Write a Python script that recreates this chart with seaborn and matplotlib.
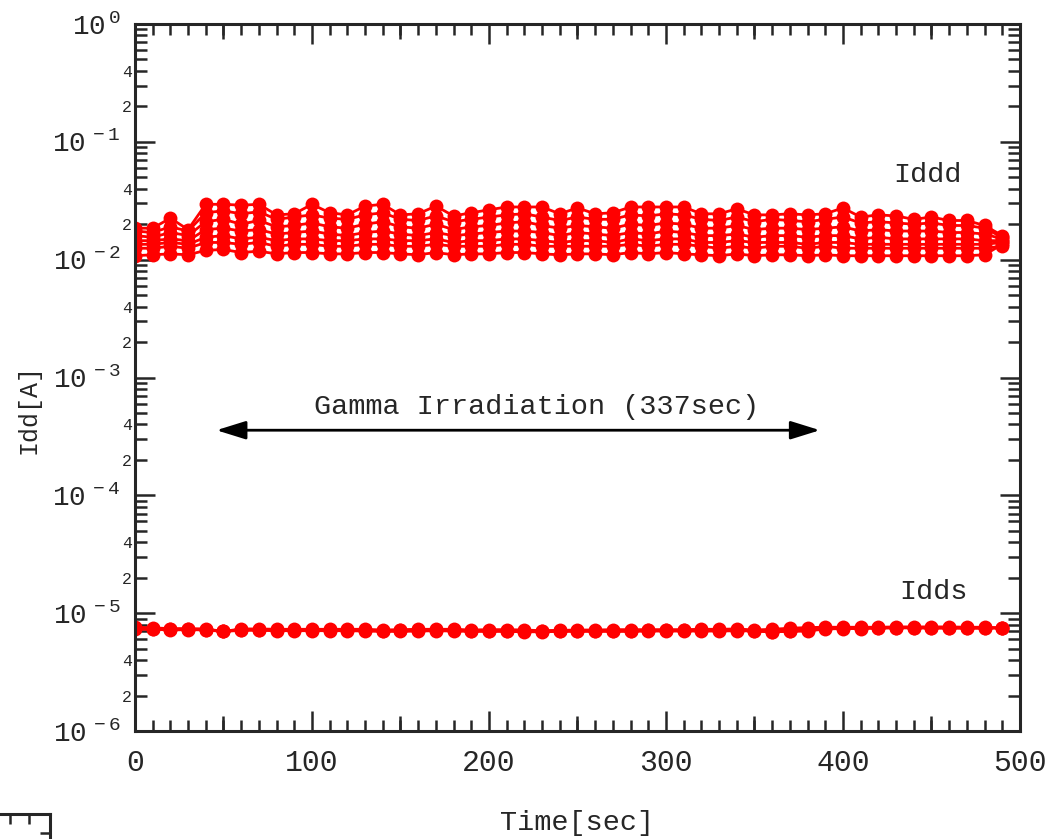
import numpy as np
import pandas as pd
import matplotlib
matplotlib.use("Agg")
import matplotlib.pyplot as plt
import matplotlib.ticker as mticker
import seaborn as sns

# time axis [sec]
time_sec = [0, 10, 20, 30, 40, 50, 60, 70, 80, 90,
            100, 110, 120, 130, 140, 150, 160, 170, 180, 190,
            200, 210, 220, 230, 240, 250, 260, 270, 280, 290,
            300, 310, 320, 330, 340, 350, 360, 370, 380, 390,
            400, 410, 420, 430, 440, 450, 460, 470, 480, 490]

# Iddd currents, in units of 1e-2 A
iddd_1 = [1.85, 1.85, 2.25, 1.80, 2.95, 2.95, 2.90, 2.95, 2.40, 2.45,
          2.95, 2.50, 2.40, 2.85, 2.95, 2.40, 2.45, 2.85, 2.35, 2.50,
          2.65, 2.80, 2.80, 2.80, 2.45, 2.75, 2.45, 2.50, 2.80, 2.80,
          2.80, 2.80, 2.45, 2.45, 2.70, 2.40, 2.40, 2.45, 2.40, 2.45,
          2.75, 2.30, 2.40, 2.35, 2.20, 2.30, 2.15, 2.15, 1.95, 1.60]
iddd_2 = [1.75, 1.70, 1.90, 1.75, 2.50, 2.60, 2.45, 2.55, 2.20, 2.30,
          2.40, 2.25, 2.20, 2.40, 2.50, 2.20, 2.15, 2.35, 2.10, 2.20,
          2.30, 2.40, 2.45, 2.30, 2.15, 2.30, 2.20, 2.20, 2.40, 2.35,
          2.45, 2.40, 2.20, 2.15, 2.30, 2.10, 2.20, 2.15, 2.10, 2.20,
          2.30, 2.05, 2.10, 2.05, 2.00, 2.05, 1.95, 1.95, 1.85, 1.55]
iddd_3 = [1.60, 1.55, 1.70, 1.60, 2.10, 2.20, 2.00, 2.15, 1.90, 1.95,
          2.05, 1.90, 1.85, 2.00, 2.10, 1.90, 1.85, 2.00, 1.80, 1.90,
          1.95, 2.05, 2.10, 1.95, 1.85, 1.95, 1.90, 1.85, 2.00, 1.95,
          2.05, 2.00, 1.85, 1.85, 1.95, 1.80, 1.85, 1.85, 1.80, 1.85,
          1.90, 1.75, 1.80, 1.75, 1.75, 1.75, 1.70, 1.70, 1.65, 1.50]
iddd_4 = [1.45, 1.45, 1.50, 1.45, 1.80, 1.85, 1.75, 1.80, 1.65, 1.70,
          1.75, 1.65, 1.60, 1.70, 1.75, 1.65, 1.60, 1.70, 1.60, 1.65,
          1.70, 1.75, 1.75, 1.70, 1.60, 1.70, 1.65, 1.60, 1.70, 1.65,
          1.75, 1.70, 1.60, 1.60, 1.65, 1.55, 1.60, 1.60, 1.55, 1.60,
          1.60, 1.50, 1.55, 1.50, 1.50, 1.50, 1.50, 1.50, 1.45, 1.45]
iddd_5 = [1.35, 1.35, 1.40, 1.35, 1.55, 1.60, 1.50, 1.55, 1.45, 1.50,
          1.50, 1.45, 1.45, 1.50, 1.50, 1.45, 1.45, 1.50, 1.40, 1.45,
          1.45, 1.50, 1.50, 1.45, 1.40, 1.45, 1.45, 1.40, 1.50, 1.45,
          1.50, 1.50, 1.40, 1.40, 1.45, 1.40, 1.40, 1.40, 1.35, 1.40,
          1.40, 1.35, 1.35, 1.35, 1.35, 1.35, 1.35, 1.35, 1.35, 1.40]
iddd_6 = [1.25, 1.25, 1.30, 1.25, 1.40, 1.40, 1.35, 1.40, 1.30, 1.35,
          1.35, 1.30, 1.30, 1.35, 1.35, 1.30, 1.30, 1.35, 1.30, 1.30,
          1.30, 1.35, 1.35, 1.30, 1.30, 1.30, 1.30, 1.30, 1.35, 1.30,
          1.35, 1.35, 1.30, 1.25, 1.30, 1.25, 1.30, 1.30, 1.25, 1.30,
          1.25, 1.25, 1.25, 1.25, 1.25, 1.25, 1.25, 1.25, 1.25, 1.30]
iddd_7 = [1.08, 1.10, 1.12, 1.10, 1.20, 1.22, 1.15, 1.18, 1.12, 1.15,
          1.15, 1.12, 1.12, 1.15, 1.15, 1.12, 1.10, 1.15, 1.10, 1.12,
          1.12, 1.15, 1.15, 1.12, 1.10, 1.12, 1.12, 1.10, 1.15, 1.12,
          1.15, 1.12, 1.10, 1.08, 1.12, 1.08, 1.10, 1.10, 1.08, 1.10,
          1.08, 1.08, 1.08, 1.08, 1.08, 1.08, 1.08, 1.08, 1.10, 1.35]

# Idds currents, in units of 1e-6 A
idds_1 = [7.60, 7.50, 7.40, 7.40, 7.35, 7.00, 7.35, 7.35, 7.30, 7.30,
          7.30, 7.30, 7.30, 7.30, 7.20, 7.25, 7.30, 7.30, 7.30, 7.20,
          7.25, 7.25, 7.20, 7.10, 7.15, 7.20, 7.20, 7.25, 7.25, 7.25,
          7.25, 7.25, 7.30, 7.30, 7.35, 7.20, 7.30, 7.45, 7.55, 7.60,
          7.60, 7.60, 7.60, 7.65, 7.65, 7.65, 7.65, 7.60, 7.60, 7.50]
idds_2 = [7.30, 7.30, 7.20, 7.25, 7.20, 7.00, 7.15, 7.15, 7.10, 7.10,
          7.10, 7.10, 7.10, 7.05, 7.00, 7.00, 7.05, 7.10, 7.05, 7.00,
          7.00, 7.00, 6.95, 6.95, 7.00, 7.00, 7.00, 7.00, 7.00, 7.05,
          7.05, 7.05, 7.05, 7.05, 7.10, 7.05, 6.95, 7.00, 7.05, 7.35,
          7.40, 7.40, 7.45, 7.50, 7.50, 7.45, 7.45, 7.45, 7.45, 7.50]
idds_3 = [7.50, 7.40, 7.30, 7.30, 7.25, 7.00, 7.25, 7.25, 7.20, 7.20,
          7.20, 7.20, 7.20, 7.15, 7.10, 7.15, 7.15, 7.20, 7.20, 7.10,
          7.10, 7.10, 7.05, 7.05, 7.10, 7.10, 7.10, 7.10, 7.10, 7.15,
          7.15, 7.15, 7.15, 7.15, 7.20, 7.10, 6.90, 7.10, 7.20, 7.45,
          7.50, 7.50, 7.55, 7.55, 7.55, 7.55, 7.55, 7.50, 7.50, 7.50]

# build long table
frames = []
for name, vals, unit in [("iddd_1", iddd_1, 1e-2), ("iddd_2", iddd_2, 1e-2),
                         ("iddd_3", iddd_3, 1e-2), ("iddd_4", iddd_4, 1e-2),
                         ("iddd_5", iddd_5, 1e-2), ("iddd_6", iddd_6, 1e-2),
                         ("iddd_7", iddd_7, 1e-2), ("idds_1", idds_1, 1e-6),
                         ("idds_2", idds_2, 1e-6), ("idds_3", idds_3, 1e-6)]:
    frames.append(pd.DataFrame({"time": time_sec,
                                "current": np.array(vals) * unit,
                                "series": name}))
df = pd.concat(frames, ignore_index=True)

sns.set_style("ticks")
plt.rcParams["font.family"] = ["Liberation Mono", "DejaVu Sans"]
plt.rcParams["axes.linewidth"] = 2.2

fig = plt.figure(figsize=(10.61, 8.39), dpi=100)
ax = fig.add_axes([0.1272, 0.1287, 0.8341, 0.8427])

sns.lineplot(data=df, x="time", y="current", units="series", estimator=None,
             color="#ff0000", marker="o", markersize=10, markeredgewidth=0,
             linewidth=2, legend=False, ax=ax)

ax.set_yscale("log")
ax.set_xlim(0, 500)
ax.set_ylim(1e-6, 1)

# x ticks
ax.xaxis.set_major_locator(mticker.MultipleLocator(100))
ax.xaxis.set_minor_locator(mticker.MultipleLocator(10))
ax.tick_params(axis="x", which="major", direction="in", length=14.4, width=1.8,
               top=True, bottom=True, labelsize=21.5, pad=13)
ax.tick_params(axis="x", which="minor", direction="in", length=7.7, width=1.8,
               top=True, bottom=True)
# 50-sec ticks, medium length
for side in ["bottom", "top"]:
    sec = ax.secondary_xaxis(side)
    sec.set_xticks([50, 150, 250, 350, 450])
    sec.set_xticklabels([])
    sec.tick_params(direction="in", length=10.8, width=1.8, labelbottom=False,
                    labeltop=False)
    sec.spines[side].set_visible(False)

# y ticks, only inside the 1e-6 .. 1 range
decades = list(range(-6, 1))
y_major = [10.0 ** k for k in decades]
y_minor = [m * 10.0 ** k for k in decades[:-1] for m in range(2, 10)]
ax.yaxis.set_major_locator(mticker.FixedLocator(y_major))
ax.yaxis.set_minor_locator(mticker.FixedLocator(y_minor))
ax.yaxis.set_major_formatter(mticker.FuncFormatter(
    lambda v, p: r"$\mathregular{10^{\,%d}}$" % int(round(np.log10(v)))))


def minor_fmt(v, p):
    d = v / 10 ** np.floor(np.log10(v) + 1e-9)
    if abs(d - 2) < 0.01:
        return "2"
    if abs(d - 4) < 0.01:
        return "4"
    return ""


ax.yaxis.set_minor_formatter(mticker.FuncFormatter(minor_fmt))
ax.tick_params(axis="y", which="major", direction="in", length=14.4, width=1.8,
               left=True, right=True, labelsize=20, pad=10)
ax.tick_params(axis="y", which="minor", direction="in", length=8.6, width=1.8,
               left=True, right=True, labelsize=12, pad=2)

ax.set_xlabel("Time[sec]", fontsize=20.5, labelpad=24)
ax.set_ylabel("Idd[A]", fontsize=18)
ax.yaxis.set_label_coords(-0.107, 0.455)

# annotations
ax.text(448, 5.2e-2, "Iddd", fontsize=20.5, ha="center", va="center")
ax.text(451, 1.5e-5, "Idds", fontsize=20.5, ha="center", va="center")
ax.text(227, 5.6e-4, "Gamma Irradiation (337sec)", fontsize=20.5,
        ha="center", va="center")
ax.annotate("", xy=(387, 3.57e-4), xytext=(46, 3.57e-4),
            arrowprops=dict(arrowstyle="<|-|>,head_length=0.9,head_width=0.28",
                            color="black", lw=2, mutation_scale=20,
                            shrinkA=0, shrinkB=0))

# fragment of a neighbouring frame at the bottom-left edge
ax2 = fig.add_axes([-0.2, -0.2, 0.2471, 0.2298])
ax2.set_xlim(0, 1)
ax2.set_ylim(0, 1)
ax2.set_xticks([0.847, 0.92])
ax2.set_yticks([0.9])
ax2.set_xticklabels([])
ax2.set_yticklabels([])
ax2.tick_params(direction="in", length=7, width=1.8, top=True, bottom=False,
                right=True, left=False, labelbottom=False, labelleft=False)
for s in ax2.spines.values():
    s.set_linewidth(2.2)

fig.savefig("out.png", dpi=100)
